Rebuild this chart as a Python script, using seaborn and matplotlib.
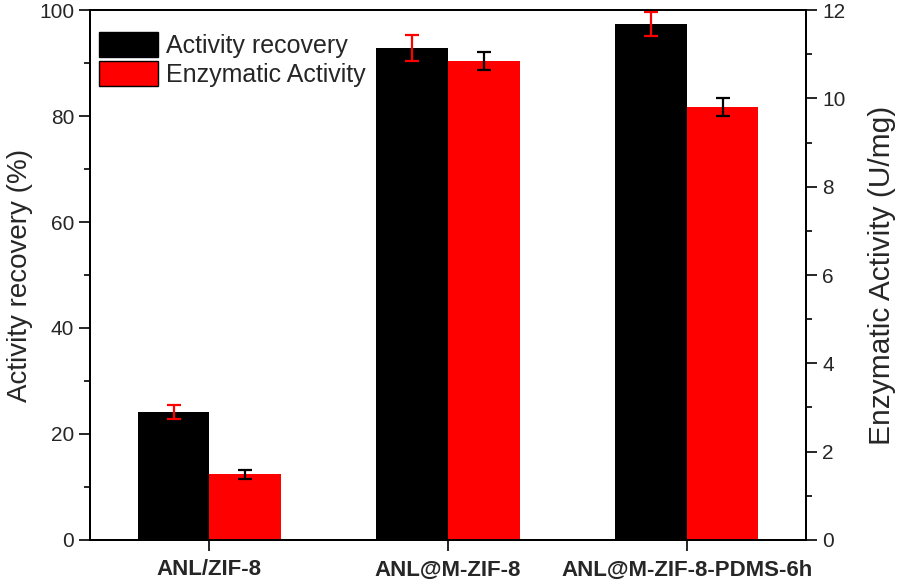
import pandas as pd
import numpy as np
import matplotlib
matplotlib.use("Agg")
import matplotlib.pyplot as plt
import seaborn as sns
from matplotlib.patches import Patch
from matplotlib.ticker import MultipleLocator

# data
samples = ["ANL/ZIF-8", "ANL@M-ZIF-8", "ANL@M-ZIF-8-PDMS-6h"]
recovery = [24.1, 92.8, 97.4]          # %
recovery_err = [1.3, 2.5, 2.3]
enzymatic = [1.49, 10.85, 9.80]        # U/mg
enzymatic_err = [0.10, 0.20, 0.20]

series = ["Activity recovery", "Enzymatic Activity"]

sns.set_style("ticks")
plt.rcParams["font.family"] = ["Liberation Sans", "DejaVu Sans"]
plt.rcParams["xtick.direction"] = "out"
plt.rcParams["ytick.direction"] = "out"

df_rec = pd.DataFrame({"sample": samples, "value": recovery, "series": series[0]})
df_enz = pd.DataFrame({"sample": samples, "value": enzymatic, "series": series[1]})

fig = plt.figure(figsize=(8.98, 5.83), dpi=100)
ax1 = fig.add_axes([0.1002, 0.0738, 0.7974, 0.909])
ax2 = ax1.twinx()

pal = {series[0]: "black", series[1]: "#ff0000"}
sns.barplot(data=df_rec, x="sample", y="value", hue="series", hue_order=series,
            order=samples, palette=pal, width=0.6, dodge=True, ax=ax1,
            legend=False, saturation=1, errorbar=None, linewidth=0)
sns.barplot(data=df_enz, x="sample", y="value", hue="series", hue_order=series,
            order=samples, palette=pal, width=0.6, dodge=True, ax=ax2,
            legend=False, saturation=1, errorbar=None, linewidth=0)

# error bars at the centres of the drawn bars
x_rec = [p.get_x() + p.get_width() / 2 for p in ax1.patches][:len(samples)]
x_enz = [p.get_x() + p.get_width() / 2 for p in ax2.patches][:len(samples)]
ax1.errorbar(x_rec, recovery, yerr=recovery_err, fmt="none", ecolor="#ff0000",
             elinewidth=1.6, capsize=5, capthick=1.6, zorder=5)
ax2.errorbar(x_enz, enzymatic, yerr=enzymatic_err, fmt="none", ecolor="black",
             elinewidth=1.6, capsize=5, capthick=1.6, zorder=5)

ax1.set_xlim(-0.5, 2.5)
ax1.set_ylim(0, 100)
ax2.set_ylim(0, 12)
ax1.yaxis.set_major_locator(MultipleLocator(20))
ax1.yaxis.set_minor_locator(MultipleLocator(10))
ax2.yaxis.set_major_locator(MultipleLocator(2))
ax2.yaxis.set_minor_locator(MultipleLocator(1))

ax1.set_xlabel("")
ax2.set_xlabel("")
ax1.set_ylabel("Activity recovery (%)", fontsize=20, labelpad=4)
ax2.set_ylabel("Enzymatic Activity (U/mg)", fontsize=21.5, labelpad=16)

for ax in (ax1, ax2):
    ax.tick_params(axis="both", which="major", length=8, width=1.4, labelsize=15)
    ax.tick_params(axis="y", which="minor", length=4.5, width=1.4)
    for s in ax.spines.values():
        s.set_visible(True)
        s.set_linewidth(1.4)
        s.set_color("black")

ax1.tick_params(axis="x", labelsize=16, pad=6)
for lab in ax1.get_xticklabels():
    lab.set_fontweight("bold")

handles = [Patch(facecolor="black", edgecolor="black", label=series[0]),
           Patch(facecolor="#ff0000", edgecolor="black", label=series[1])]
ax1.legend(handles=handles, loc="upper left", frameon=False, fontsize=18,
           handlelength=2.36, handleheight=1.16, handletextpad=0.3,
           labelspacing=0.1, borderpad=0, borderaxespad=0,
           bbox_to_anchor=(0.0126, 0.958))

fig.savefig("out.png", dpi=100)
